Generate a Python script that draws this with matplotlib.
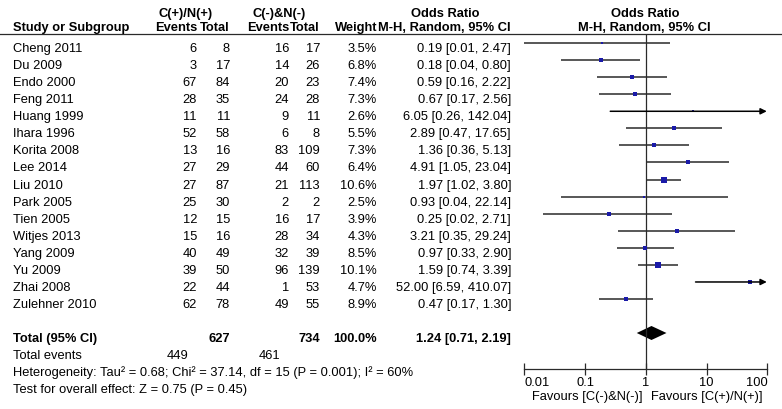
import numpy as np
import matplotlib
matplotlib.use("Agg")
import matplotlib.pyplot as plt

plt.rcParams['font.family'] = ['Liberation Sans', 'DejaVu Sans']

# ---------------- data ----------------
studies = ["Cheng 2011", "Du 2009", "Endo 2000", "Feng 2011", "Huang 1999", "Ihara 1996",
           "Korita 2008", "Lee 2014", "Liu 2010", "Park 2005", "Tien 2005", "Witjes 2013",
           "Yang 2009", "Yu 2009", "Zhai 2008", "Zulehner 2010"]
events_pos = [6, 3, 67, 28, 11, 52, 13, 27, 27, 25, 12, 15, 40, 39, 22, 62]
total_pos = [8, 17, 84, 35, 11, 58, 16, 29, 87, 30, 15, 16, 49, 50, 44, 78]
events_neg = [16, 14, 20, 24, 9, 6, 83, 44, 21, 2, 16, 28, 32, 96, 1, 49]
total_neg = [17, 26, 23, 28, 11, 8, 109, 60, 113, 2, 17, 34, 39, 139, 53, 55]
weights = [3.5, 6.8, 7.4, 7.3, 2.6, 5.5, 7.3, 6.4, 10.6, 2.5, 3.9, 4.3, 8.5, 10.1, 4.7, 8.9]
odds = [0.19, 0.18, 0.59, 0.67, 6.05, 2.89, 1.36, 4.91, 1.97, 0.93, 0.25, 3.21, 0.97, 1.59, 52.00, 0.47]
ci_low = [0.01, 0.04, 0.16, 0.17, 0.26, 0.47, 0.36, 1.05, 1.02, 0.04, 0.02, 0.35, 0.33, 0.74, 6.59, 0.17]
ci_high = [2.47, 0.80, 2.22, 2.56, 142.04, 17.65, 5.13, 23.04, 3.80, 22.14, 2.71, 29.24, 2.90, 3.39, 410.07, 1.30]

total_n_pos = 627
total_n_neg = 734
total_weight = 100.0
total_or = 1.24
total_low = 0.71
total_high = 2.19
total_events_pos = 449
total_events_neg = 461

heterogeneity = "Heterogeneity: Tau\u00b2 = 0.68; Chi\u00b2 = 37.14, df = 15 (P = 0.001); I\u00b2 = 60%"
overall = "Test for overall effect: Z = 0.75 (P = 0.45)"
group1 = "C(+)/N(+)"
group2 = "C(-)&N(-)"
xticks = [0.01, 0.1, 1, 10, 100]
xtick_labels = ["0.01", "0.1", "1", "10", "100"]
fav_left = "Favours [C(-)&N(-)]"
fav_right = "Favours [C(+)/N(+)]"

# ---------------- layout (pixel units) ----------------
W, H = 782, 409
fig = plt.figure(figsize=(W / 100, H / 100), dpi=100)
bg = fig.add_axes([0, 0, 1, 1])
bg.set_xlim(0, W)
bg.set_ylim(H, 0)
bg.axis('off')

FS = 9.3
line_col = '#2a2a2a'

row0, dy = 43.0, 17.07
rows = row0 + dy * np.arange(len(studies))
y_total = 333
base_off = 9  # text baseline below row centre

x_name = 13
x_ev1, x_tot1, x_ev2, x_tot2, x_w, x_or = 197, 230, 289, 320, 377, 511

# headers
bg.text(186, 17, group1, fontsize=FS, fontweight='bold', ha='center', va='baseline')
bg.text(279, 17, group2, fontsize=FS, fontweight='bold', ha='center', va='baseline')
bg.text(445, 17, "Odds Ratio", fontsize=FS, fontweight='bold', ha='center', va='baseline')
bg.text(645, 17, "Odds Ratio", fontsize=FS, fontweight='bold', ha='center', va='baseline')
hy = 31
bg.text(x_name, hy, "Study or Subgroup", fontsize=FS, fontweight='bold', ha='left', va='baseline')
for x, s in [(x_ev1, "Events"), (x_tot1, "Total"), (x_ev2, "Events"), (x_tot2, "Total"),
             (x_w, "Weight"), (x_or, "M-H, Random, 95% CI")]:
    bg.text(x, hy, s, fontsize=FS, fontweight='bold', ha='right', va='baseline')
bg.text(644, hy, "M-H, Random, 95% CI", fontsize=FS, fontweight='bold', ha='center', va='baseline')
bg.axhline(34, color=line_col, lw=0.9)

# study rows
for i, name in enumerate(studies):
    yb = rows[i] + base_off
    bg.text(x_name, yb, name, fontsize=FS, ha='left', va='baseline')
    bg.text(x_ev1, yb, str(events_pos[i]), fontsize=FS, ha='right', va='baseline')
    bg.text(x_tot1, yb, str(total_pos[i]), fontsize=FS, ha='right', va='baseline')
    bg.text(x_ev2, yb, str(events_neg[i]), fontsize=FS, ha='right', va='baseline')
    bg.text(x_tot2, yb, str(total_neg[i]), fontsize=FS, ha='right', va='baseline')
    bg.text(x_w, yb, f"{weights[i]:.1f}%", fontsize=FS, ha='right', va='baseline')
    bg.text(x_or, yb, f"{odds[i]:.2f} [{ci_low[i]:.2f}, {ci_high[i]:.2f}]",
            fontsize=FS, ha='right', va='baseline')

# total rows
yb = y_total + base_off
bg.text(x_name, yb, "Total (95% CI)", fontsize=FS, fontweight='bold', ha='left', va='baseline')
bg.text(x_tot1, yb, str(total_n_pos), fontsize=FS, fontweight='bold', ha='right', va='baseline')
bg.text(x_tot2, yb, str(total_n_neg), fontsize=FS, fontweight='bold', ha='right', va='baseline')
bg.text(x_w, yb, f"{total_weight:.1f}%", fontsize=FS, fontweight='bold', ha='right', va='baseline')
bg.text(x_or, yb, f"{total_or:.2f} [{total_low:.2f}, {total_high:.2f}]",
        fontsize=FS, fontweight='bold', ha='right', va='baseline')
bg.text(x_name, 359, "Total events", fontsize=FS, ha='left', va='baseline')
bg.text(188, 359, str(total_events_pos), fontsize=FS, ha='right', va='baseline')
bg.text(280, 359, str(total_events_neg), fontsize=FS, ha='right', va='baseline')
bg.text(x_name, 376, heterogeneity, fontsize=FS, ha='left', va='baseline')
bg.text(x_name, 393, overall, fontsize=FS, ha='left', va='baseline')

# ---------------- forest axes ----------------
fx0, fx1 = 524.3, 767.3
ax = fig.add_axes([fx0 / W, 0, (fx1 - fx0) / W, 1])
ax.set_xscale('log')
ax.set_xlim(xticks[0], xticks[-1])
ax.set_ylim(H, 0)
ax.patch.set_alpha(0)
for s in ['top', 'left', 'right']:
    ax.spines[s].set_visible(False)
axis_y = 369
ax.spines['bottom'].set_position(('data', axis_y))
ax.spines['bottom'].set_color(line_col)
ax.spines['bottom'].set_linewidth(0.9)
ax.set_yticks([])
ax.set_xticks(xticks)
ax.minorticks_off()
ax.set_xticklabels(xtick_labels, fontsize=FS)
ax.tick_params(axis='x', direction='inout', length=8, width=0.9, color=line_col, pad=2)
labs = ax.get_xticklabels()
labs[0].set_ha('left')
labs[-1].set_ha('right')

ax.vlines(1, 34, axis_y, color=line_col, lw=0.9)

xmax = xticks[-1]
marker_col = '#1a1aa8'
for i in range(len(studies)):
    y = rows[i]
    hi = ci_high[i]
    if hi > xmax:
        ax.annotate('', xy=(xmax * 0.98, y), xytext=(ci_low[i], y),
                    arrowprops=dict(arrowstyle='-|>', color='black', lw=1.1,
                                    mutation_scale=9, shrinkA=0, shrinkB=0))
    else:
        ax.plot([ci_low[i], hi], [y, y], color=line_col, lw=1.1, solid_capstyle='butt')
    side_px = 1.6 * np.sqrt(weights[i])
    ax.plot(odds[i], y, marker='s', ms=side_px / 1.389, color=marker_col, mec=marker_col, mew=0)

# diamond
dh = 7
ax.fill([total_low, total_or, total_high, total_or],
        [y_total, y_total - dh, y_total, y_total + dh], color='black', lw=0)

# favours labels
ax.annotate(fav_left, xy=(1, 400), xycoords='data', xytext=(-2.5, 0), textcoords='offset points',
            fontsize=FS, ha='right', va='baseline')
ax.annotate(fav_right, xy=(1, 400), xycoords='data', xytext=(3.5, 0), textcoords='offset points',
            fontsize=FS, ha='left', va='baseline')

fig.savefig("out.png", dpi=100)
